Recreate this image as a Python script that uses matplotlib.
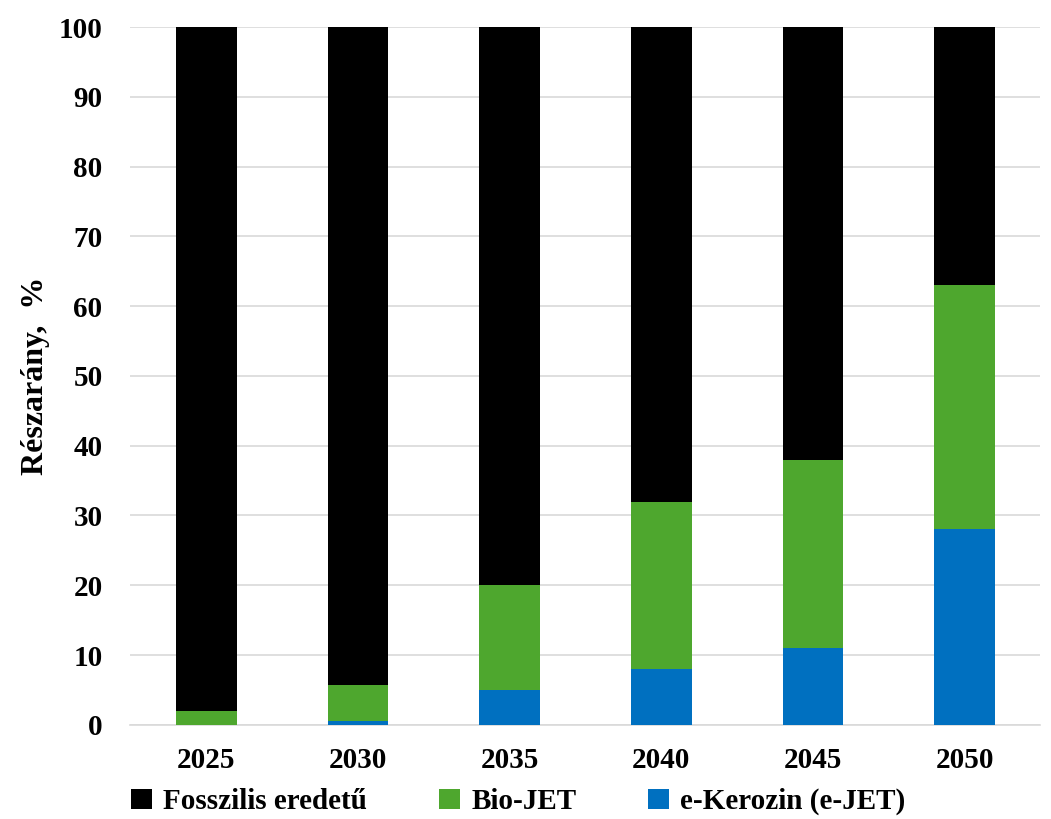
import numpy as np
import matplotlib.pyplot as plt

plt.rcParams['font.family'] = 'serif'
plt.rcParams['font.serif'] = ['Liberation Serif', 'DejaVu Serif']
plt.rcParams['font.weight'] = 'bold'

years = ['2025', '2030', '2035', '2040', '2045', '2050']
e_kerozin = [0, 0.6, 5, 8, 11, 28]
bio_jet = [2, 5.1, 15, 24, 27, 35]
fossil = [100 - e - b for e, b in zip(e_kerozin, bio_jet)]

labels = ['Fosszilis eredetű', 'Bio-JET', 'e-Kerozin (e-JET)']
colors = ['#000000', '#4EA72E', '#0070C0']


def main():
    fig = plt.figure(figsize=(10.51, 8.19), dpi=100)
    ax = fig.add_axes([0.124, 0.115, 0.866, 0.852])

    x = np.arange(len(years))
    w = 0.4
    e = np.array(e_kerozin)
    b = np.array(bio_jet)
    f = np.array(fossil)
    h_e = ax.bar(x, e, w, color=colors[2], zorder=3)
    h_b = ax.bar(x, b, w, bottom=e, color=colors[1], zorder=3)
    h_f = ax.bar(x, f, w, bottom=e + b, color=colors[0], zorder=3)

    ax.set_xlim(-0.5, len(years) - 0.5)
    ax.set_ylim(0, 100)
    ax.set_yticks(np.arange(0, 101, 10))
    ax.set_xticks(x)
    ax.set_xticklabels(years)
    ax.tick_params(axis='both', length=0, labelsize=21)
    ax.tick_params(axis='x', pad=16)
    ax.tick_params(axis='y', pad=20)
    ax.grid(axis='y', color='#D9D9D9', linewidth=1.2, zorder=0)
    for s in ['top', 'right', 'left']:
        ax.spines[s].set_visible(False)
    ax.spines['bottom'].set_color('#D9D9D9')
    ax.spines['bottom'].set_linewidth(1.2)

    ax.set_ylabel('Részarány,  %', fontsize=23, fontweight='bold')
    ax.yaxis.set_label_coords(-0.088, 0.5)

    fig.legend([h_f, h_b, h_e], labels, loc='center', ncol=3,
               bbox_to_anchor=(0.493, 0.021), frameon=False, fontsize=21,
               handlelength=0.72, handleheight=0.72, columnspacing=2.45,
               handletextpad=0.4)

    fig.savefig('out.png', dpi=100)


if __name__ == '__main__':
    main()
